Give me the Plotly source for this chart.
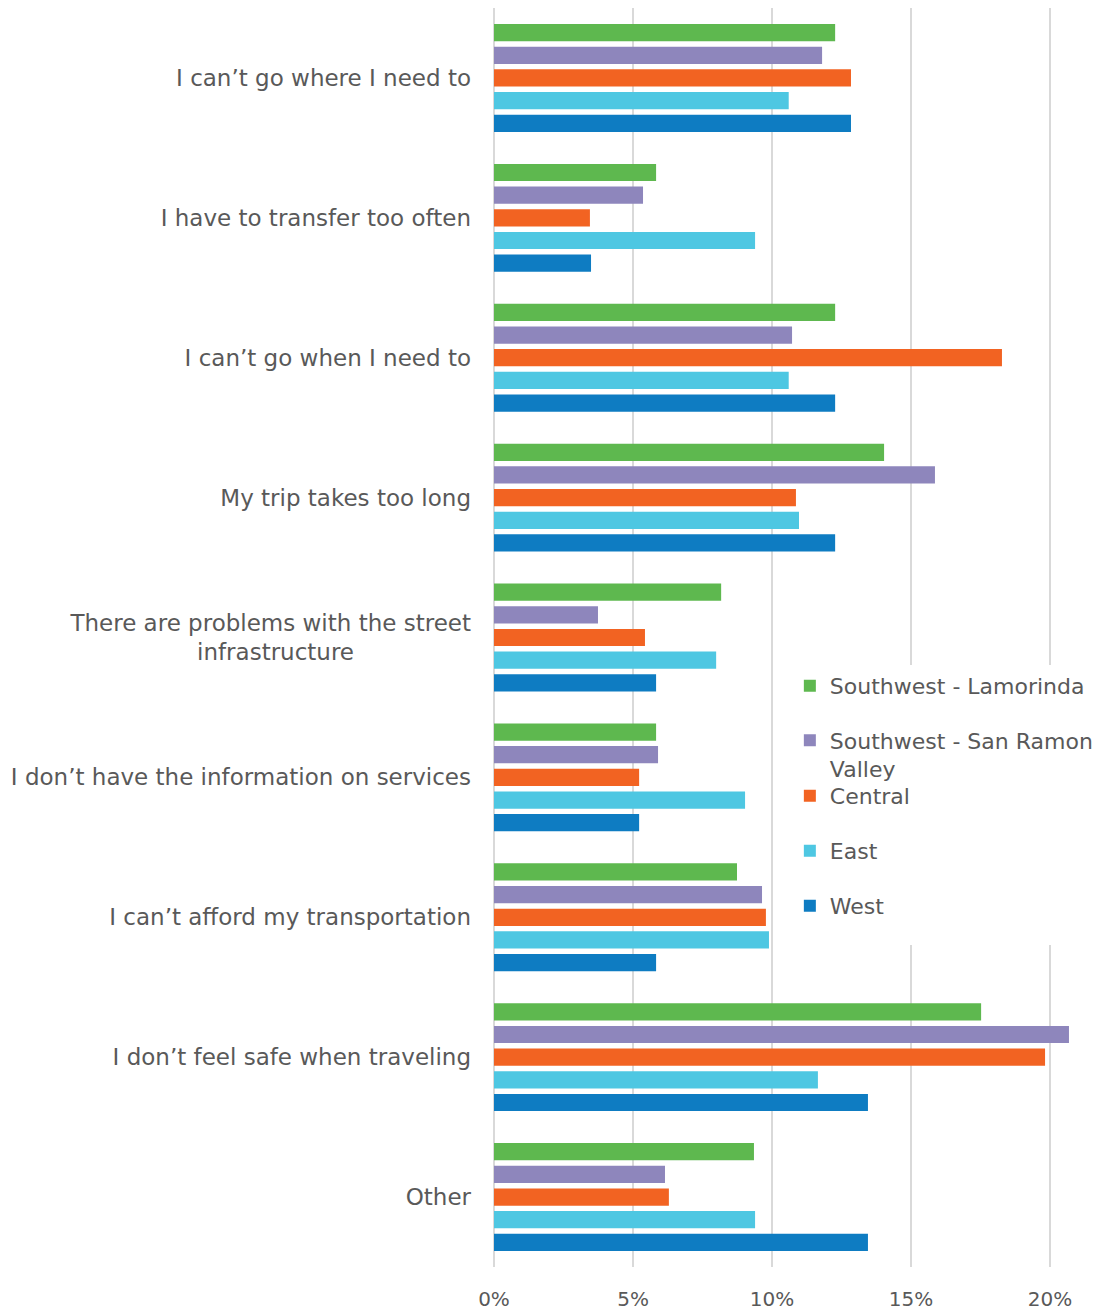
import plotly.graph_objects as go

categories = [
    "I can\u2019t go where I need to",
    "I have to transfer too often",
    "I can\u2019t go when I need to",
    "My trip takes too long",
    "There are problems with the street<br>infrastructure",
    "I don\u2019t have the information on services",
    "I can\u2019t afford my transportation",
    "I don\u2019t feel safe when traveling",
    "Other",
]

series_names = [
    "Southwest - Lamorinda",
    "Southwest - San Ramon<br>Valley",
    "Central",
    "East",
    "West",
]

sw_lamorinda = [0.1227, 0.0583, 0.1227, 0.1403, 0.0817, 0.0583, 0.0874, 0.1752, 0.0935]
sw_san_ramon = [0.1180, 0.0536, 0.1072, 0.1586, 0.0374, 0.0590, 0.0964, 0.2068, 0.0615]
central      = [0.1284, 0.0345, 0.1827, 0.1086, 0.0543, 0.0522, 0.0978, 0.1982, 0.0629]
east         = [0.1060, 0.0939, 0.1060, 0.1097, 0.0799, 0.0903, 0.0989, 0.1165, 0.0939]
west         = [0.1284, 0.0349, 0.1227, 0.1227, 0.0583, 0.0522, 0.0583, 0.1345, 0.1345]

colors = ["#5EB84F", "#8E86BC", "#F26322", "#4EC7E2", "#0E7CC2"]

FONT = "DejaVu Sans"
TXT = "#595959"

# display labels: centre the wrapped second line like the original
NB = "\u00a0"
tick_text = [c.replace("<br>infrastructure", "<br>infrastructure" + NB * 16) for c in categories]

legend_ids = ["legend", "legend2", "legend3", "legend4", "legend5"]
legend_y = [0.4615, 0.4067, 0.3741, 0.3304, 0.2867]

fig = go.Figure()
for name, vals, col, lid in zip(series_names,
                                [sw_lamorinda, sw_san_ramon, central, east, west],
                                colors, legend_ids):
    fig.add_trace(go.Bar(
        y=categories, x=vals, name=name, orientation="h",
        marker=dict(color=col, line=dict(width=0)),
        legend=lid,
    ))

layout_legends = {}
for lid, ly in zip(legend_ids, legend_y):
    layout_legends[lid] = dict(
        x=0.485, y=ly, xanchor="left", yanchor="middle",
        bgcolor="rgba(0,0,0,0)", font=dict(size=22, color=TXT, family=FONT),
        itemwidth=30, valign="top",
    )

fig.update_layout(
    width=1096, height=1303,
    margin=dict(l=486, r=0, t=0, b=44),
    paper_bgcolor="white", plot_bgcolor="white",
    barmode="group", bargap=0.19, bargroupgap=0.24,
    font=dict(family=FONT, color=TXT, size=23),
    showlegend=True,
    xaxis=dict(
        range=[0, 0.2194], tickformat=".0%", dtick=0.05,
        showgrid=True, gridcolor="#D9D9D9", gridwidth=2,
        zeroline=True, zerolinecolor="#D9D9D9", zerolinewidth=2,
        tickfont=dict(size=20, color=TXT, family=FONT),
        ticklabelstandoff=18, fixedrange=True,
    ),
    yaxis=dict(
        autorange="reversed", showgrid=False, automargin=False,
        tickmode="array", tickvals=categories, ticktext=tick_text,
        tickfont=dict(size=23, color=TXT, family=FONT),
        ticklabelstandoff=22,
    ),
    shapes=[dict(
        type="rect", xref="paper", yref="paper",
        x0=0.51, x1=1.0, y0=0.2558, y1=0.4782,
        fillcolor="white", line=dict(width=0), layer="above",
    )],
    **layout_legends,
)

fig.write_html("out.html")
